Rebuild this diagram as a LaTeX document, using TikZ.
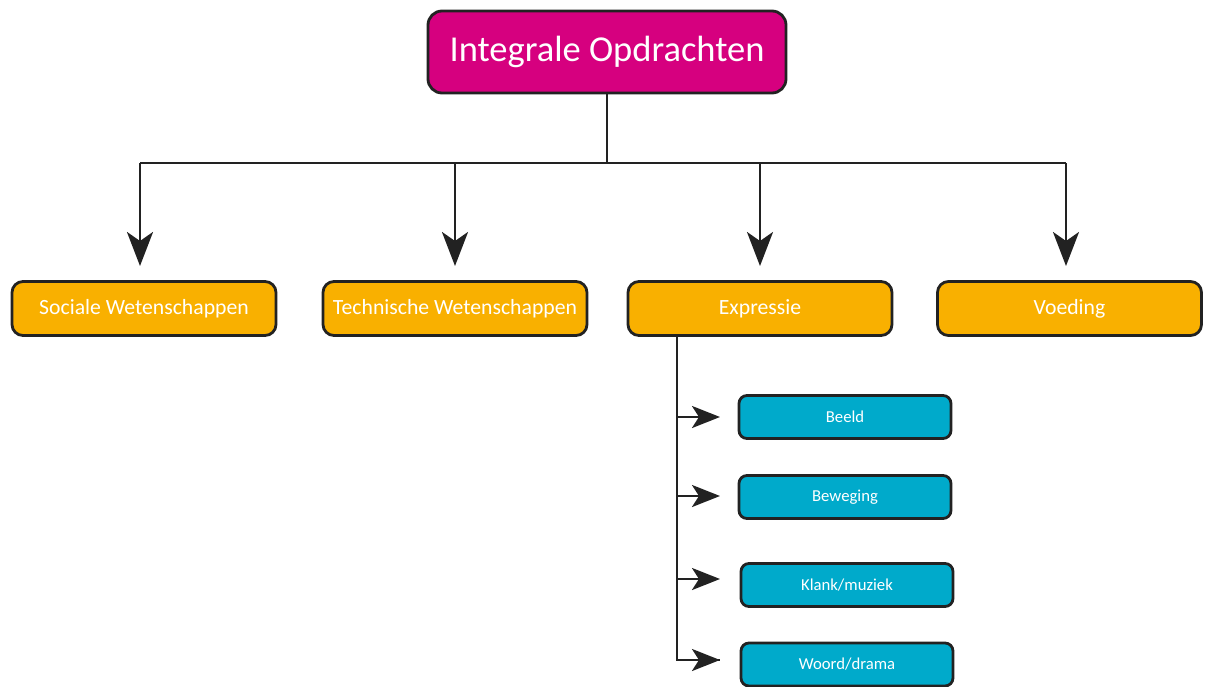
\documentclass[tikz,border=0pt]{standalone}
\usepackage{fontspec}
\setmainfont{Carlito}
\usetikzlibrary{arrows.meta}
\definecolor{topfill}{HTML}{D6007F}
\definecolor{midfill}{HTML}{F9B000}
\definecolor{subfill}{HTML}{00AACB}
\definecolor{ink}{HTML}{222222}
\tikzset{
  box/.style={draw=ink, line width=2.8pt, text=white, align=center, inner sep=0pt},
  topbox/.style={box, fill=topfill, rounded corners=14pt, minimum width=358pt, minimum height=82pt, font=\fontsize{36.5}{40}\selectfont},
  midbox/.style={box, fill=midfill, rounded corners=11pt, minimum width=264pt, minimum height=54pt, font=\fontsize{21.7}{25}\selectfont},
  subbox/.style={box, fill=subfill, rounded corners=8pt, minimum width=212pt, minimum height=43pt, font=\fontsize{16.7}{19}\selectfont},
  link/.style={draw=ink, line width=2.9pt},
  downarrow/.style={link, -{Stealth[length=34pt, width=26pt, inset=9pt]}},
  sidearrow/.style={link, -{Stealth[length=28pt, width=22pt, inset=7pt]}},
}
\begin{document}
\begin{tikzpicture}[x=1pt, y=-1pt]
\useasboundingbox (0,0) rectangle (1205,686);

% root
\node[topbox] (root) at (607,52) {Integrale Opdrachten};

% second level
\node[midbox] (soc)  at (144,308.5) {Sociale Wetenschappen};
\node[midbox] (tech) at (455,308.5) {Technische Wetenschappen};
\node[midbox] (expr) at (760,308.5) {Expressie};
\node[midbox] (voed) at (1069.5,308.5) {Voeding};

% branches of Expressie
\node[subbox] (beeld) at (845,417) {Beeld};
\node[subbox] (bew)   at (845,497) {Beweging};
\node[subbox] (klank) at (847,585) {Klank/muziek};
\node[subbox] (woord) at (847,664.5) {Woord/drama};

% distribution bar
\coordinate (bus) at (607,163);
\coordinate (busL) at (140,163);
\coordinate (busR) at (1066,163);
\draw[link] (root.south) -- (bus);
\draw[link] (busL) -- (busR);
\draw[downarrow] (busL) -- (140,266);
\draw[downarrow] (455,163) -- (455,266);
\draw[downarrow] (760,163) -- (760,266);
\draw[downarrow] (busR) -- (1066,266);

% spine from Expressie to its branches
\coordinate (sp) at (677,335);
\coordinate (spEnd) at (677,660);
\draw[link] (sp) -- (spEnd) -- (720,660);
\draw[sidearrow] (677,417) -- (720,417);
\draw[sidearrow] (677,496) -- (720,496);
\draw[sidearrow] (677,579) -- (720,579);
\draw[sidearrow] (677,660) -- (720,660);
\end{tikzpicture}
\end{document}
